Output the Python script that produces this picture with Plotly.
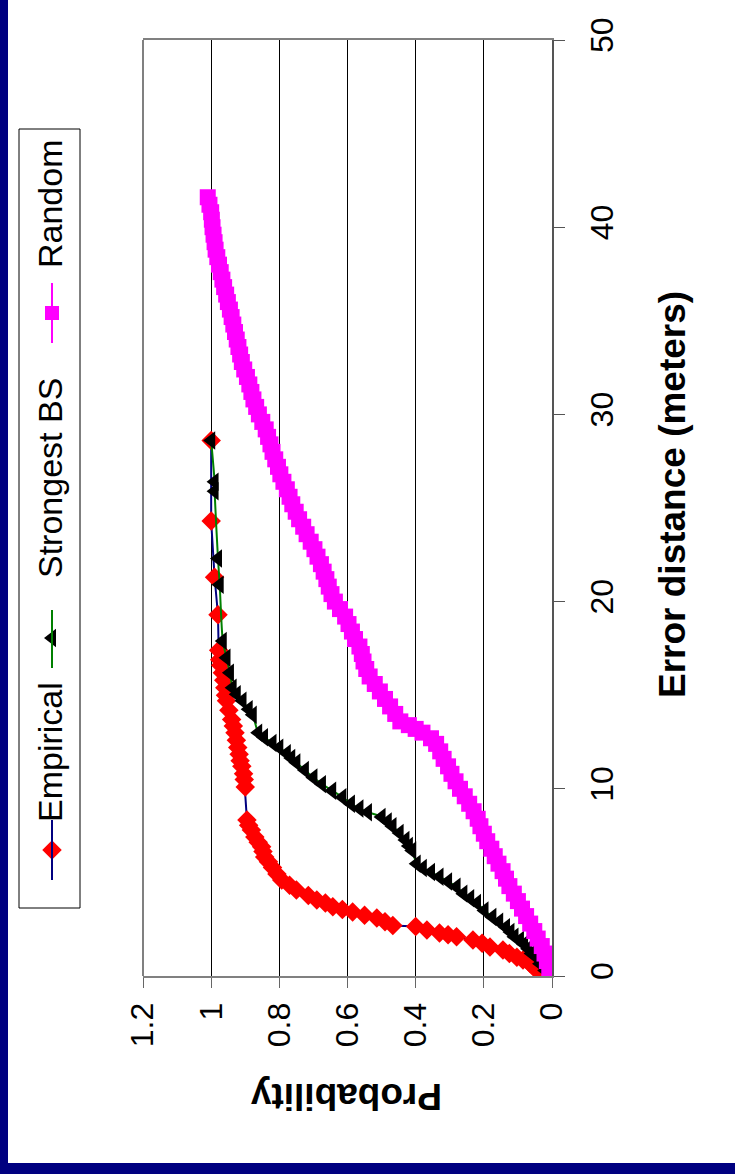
import plotly.graph_objects as go

W, H = 735, 1174
PL, PR, PT, PB = 143, 552, 40, 976

# ---------------- data ----------------
emp_dist = [0.0, 0.15, 0.32, 0.5, 0.68, 0.85, 1.0, 1.2, 1.39, 1.55, 1.75, 1.92, 2.1, 2.2, 2.3,
            2.46, 2.65, 2.7, 2.9, 3.1, 3.25, 3.42, 3.55, 3.7, 3.9, 4.06, 4.3, 4.6, 4.85, 5.13,
            5.45, 5.8, 6.1, 6.36, 6.65, 6.9, 7.15, 7.43, 7.8, 8.05, 8.33, 10.1, 10.5, 10.8,
            11.2, 11.5, 11.85, 12.2, 12.6, 13.0, 13.35, 13.7, 14.2, 14.7, 15.0, 15.4, 15.8,
            16.2, 16.6, 16.9, 17.4, 19.3, 21.3, 24.3, 28.6]
emp_prob = [0.0, 0.02, 0.044, 0.055, 0.065, 0.085, 0.103, 0.125, 0.144, 0.182, 0.205, 0.232,
            0.28, 0.305, 0.33, 0.367, 0.40, 0.467, 0.49, 0.514, 0.55, 0.585, 0.615, 0.643,
            0.665, 0.69, 0.715, 0.75, 0.77, 0.793, 0.807, 0.82, 0.832, 0.843, 0.848, 0.852,
            0.862, 0.872, 0.882, 0.89, 0.895, 0.90, 0.903, 0.905, 0.91, 0.915, 0.918, 0.922,
            0.926, 0.93, 0.935, 0.94, 0.948, 0.955, 0.958, 0.96, 0.963, 0.967, 0.972, 0.975,
            0.978, 0.98, 0.99, 1.0, 1.0]

bs_dist = [0.0, 0.3, 0.65, 1.0, 1.2, 1.45, 1.7, 1.92, 2.1, 2.35, 2.6, 2.9, 3.15, 3.5, 3.9,
           4.15, 4.4, 4.77, 5.05, 5.3, 5.55, 5.77, 6.0, 6.7, 6.95, 7.26, 7.64, 8.0, 8.25, 8.5,
           8.75, 8.95, 9.2, 9.55, 9.9, 10.25, 10.6, 11.0, 11.4, 11.65, 11.9, 12.2, 12.45,
           12.75, 13.0, 13.95, 14.25, 14.7, 15.05, 15.4, 16.2, 17.0, 17.9, 20.9, 22.3, 25.9,
           26.4, 28.6]
bs_prob = [0.0, 0.02, 0.035, 0.044, 0.06, 0.07, 0.082, 0.094, 0.11, 0.122, 0.135, 0.155,
           0.175, 0.198, 0.22, 0.24, 0.26, 0.28, 0.305, 0.33, 0.355, 0.379, 0.397, 0.41,
           0.42, 0.43, 0.447, 0.468, 0.482, 0.50, 0.54, 0.565, 0.59, 0.615, 0.645, 0.675,
           0.70, 0.725, 0.75, 0.765, 0.778, 0.80, 0.82, 0.845, 0.862, 0.878, 0.89, 0.908,
           0.925, 0.937, 0.945, 0.955, 0.966, 0.975, 0.98, 0.99, 0.99, 1.0]

rnd_dist = [0.0, 0.4, 0.8, 1.2, 1.6, 2.0, 2.4, 2.8, 3.2, 3.6, 4.0, 4.4, 4.8, 5.2, 5.6, 6.0,
            6.4, 6.8, 7.2, 7.6, 8.0, 8.4, 8.8, 9.2, 9.6, 10.0, 10.4, 10.8, 11.2, 11.6, 12.0,
            12.4, 12.7, 13.0, 13.2, 13.4, 13.6, 14.0, 14.4, 14.8, 15.2, 15.6, 16.0, 16.4,
            16.8, 17.2, 17.6, 18.0, 18.4, 18.8, 19.2, 19.6, 20.0, 20.4, 20.8, 21.2, 21.6,
            22.0, 22.4, 22.8, 23.2, 23.6, 24.0, 24.4, 24.8, 25.2, 25.6, 26.0, 26.4, 26.8,
            27.2, 27.6, 28.0, 28.4, 28.8, 29.2, 29.6, 30.0, 30.4, 30.8, 31.2, 31.6, 32.0,
            32.4, 32.8, 33.2, 33.6, 34.0, 34.4, 34.8, 35.2, 35.6, 36.0, 36.4, 36.8, 37.2,
            37.6, 38.0, 38.4, 38.8, 39.2, 39.6, 40.0, 40.4, 40.8, 41.2, 41.6]
rnd_prob = [0.0, 0.008, 0.015, 0.022, 0.03, 0.042, 0.052, 0.064, 0.076, 0.088, 0.10, 0.112,
            0.125, 0.135, 0.145, 0.157, 0.168, 0.178, 0.19, 0.20, 0.21, 0.218, 0.23, 0.243,
            0.256, 0.27, 0.283, 0.295, 0.305, 0.318, 0.328, 0.34, 0.355, 0.38, 0.40, 0.42,
            0.445, 0.46, 0.475, 0.49, 0.505, 0.52, 0.535, 0.545, 0.553, 0.558, 0.565, 0.578,
            0.587, 0.597, 0.607, 0.622, 0.637, 0.647, 0.655, 0.662, 0.67, 0.678, 0.688,
            0.697, 0.708, 0.72, 0.73, 0.742, 0.752, 0.762, 0.77, 0.778, 0.788, 0.797, 0.804,
            0.812, 0.82, 0.826, 0.833, 0.84, 0.85, 0.86, 0.868, 0.876, 0.882, 0.888, 0.895,
            0.903, 0.91, 0.915, 0.92, 0.925, 0.93, 0.935, 0.94, 0.945, 0.951, 0.956, 0.962,
            0.967, 0.972, 0.977, 0.982, 0.987, 0.99, 0.993, 0.996, 0.998, 1.0, 1.005, 1.01]

series_names = ["Empirical", "Strongest BS", "Random"]
prob_ticks = [0, 0.2, 0.4, 0.6, 0.8, 1, 1.2]
dist_ticks = [0, 10, 20, 30, 40, 50]

FONT = "Arial, Liberation Sans, sans-serif"
NAVY = "#000080"
SZ_D, SZ_T, SZ_S = 15, 16, 16

fig = go.Figure()

# main traces: probability on x (reversed), distance on y
fig.add_trace(go.Scatter(x=emp_prob, y=emp_dist, mode="lines+markers", name=series_names[0],
                         line=dict(color=NAVY, width=2),
                         marker=dict(symbol="diamond", size=SZ_D, color="#FF0000", line=dict(width=0)),
                         xaxis="x", yaxis="y", showlegend=False))
fig.add_trace(go.Scatter(x=bs_prob, y=bs_dist, mode="lines+markers", name=series_names[1],
                         line=dict(color="#008000", width=2, shape="spline", smoothing=0.6),
                         marker=dict(symbol="triangle-left", size=SZ_T, color="#000000", line=dict(width=0)),
                         xaxis="x", yaxis="y", showlegend=False))
fig.add_trace(go.Scatter(x=rnd_prob, y=rnd_dist, mode="lines+markers", name=series_names[2],
                         line=dict(color="#FF00FF", width=2),
                         marker=dict(symbol="square", size=SZ_S, color="#FF00FF", line=dict(width=0)),
                         xaxis="x", yaxis="y", showlegend=False))

# overlay pixel axes for decorations (legend, titles)
leg_x = 52
leg_items = [  # (marker y px, line y0, line y1, text center y, symbol, mcolor, lcolor, size)
    (850, 880, 820, 752, "diamond", "#FF0000", NAVY, SZ_D),
    (638, 668, 610, 478, "triangle-left", "#000000", "#008000", SZ_T),
    (313, 343, 283, 204, "square", "#FF00FF", "#FF00FF", 14),
]

shapes = [
    dict(type="rect", xref="x2", yref="y2", x0=0, x1=8, y0=0, y1=H, fillcolor=NAVY, line=dict(width=0), layer="above"),
    dict(type="rect", xref="x2", yref="y2", x0=0, x1=W, y0=1163, y1=H, fillcolor=NAVY, line=dict(width=0), layer="above"),
    dict(type="line", xref="x2", yref="y2", x0=PL, x1=PL, y0=PT, y1=PB, line=dict(color="#808080", width=2), layer="above"),
    dict(type="rect", xref="x2", yref="y2", x0=19, x1=80, y0=129, y1=908, fillcolor="white",
         line=dict(color="#000000", width=1), layer="below"),
]
annotations = []
for i, (my, l0, l1, ty, sym, mc, lc, sz) in enumerate(leg_items):
    shapes.append(dict(type="line", xref="x2", yref="y2", x0=leg_x, x1=leg_x, y0=l0, y1=l1,
                       line=dict(color=lc, width=2), layer="above"))
    fig.add_trace(go.Scatter(x=[leg_x], y=[my], mode="markers", xaxis="x2", yaxis="y2",
                             marker=dict(symbol=sym, size=sz, color=mc, line=dict(width=0)),
                             showlegend=False, hoverinfo="skip"))
    annotations.append(dict(xref="x2", yref="y2", x=50, y=ty, text=series_names[i], textangle=-90,
                            showarrow=False, xanchor="center", yanchor="middle",
                            font=dict(family=FONT, size=34, color="#000")))

annotations.append(dict(xref="x2", yref="y2", x=672, y=495, text="Error distance (meters)", textangle=-90,
                        showarrow=False, xanchor="center", yanchor="middle",
                        font=dict(family=FONT, size=37, color="#000", weight="bold")))
annotations.append(dict(xref="x2", yref="y2", x=346, y=1097, text="Probability", textangle=180,
                        showarrow=False, xanchor="center", yanchor="middle",
                        font=dict(family=FONT, size=37, color="#000", weight="bold")))

fig.update_layout(
    width=W, height=H,
    margin=dict(l=0, r=0, t=0, b=0),
    paper_bgcolor="white", plot_bgcolor="rgba(0,0,0,0)",
    showlegend=False,
    xaxis=dict(domain=[PL / W, PR / W], range=[1.2, 0], tickvals=prob_ticks,
               ticktext=[("%g" % v) for v in prob_ticks],
               showgrid=True, gridcolor="#000000", gridwidth=1, zeroline=False,
               ticks="outside", ticklen=10, tickcolor="#666666", tickwidth=1,
               tickangle=-90, tickfont=dict(family=FONT, size=32, color="#000"),
               showline=True, linecolor="#808080", linewidth=2, mirror=True,
               anchor="y", side="bottom", automargin=False, ticklabelstandoff=2),
    yaxis=dict(domain=[(H - PB) / H, (H - PT) / H], range=[0, 50], tickvals=dist_ticks,
               showgrid=False, zeroline=False,
               ticks="outside", ticklen=11, tickcolor="#555555", tickwidth=1,
               tickangle=-90, tickfont=dict(family=FONT, size=32, color="#000"),
               showline=True, linecolor="#555555", linewidth=2, mirror=False,
               anchor="x", side="right", automargin=False, ticklabelstandoff=10),
    xaxis2=dict(domain=[0, 1], range=[0, W], visible=False, anchor="y2", fixedrange=True),
    yaxis2=dict(domain=[0, 1], range=[H, 0], visible=False, anchor="x2", fixedrange=True),
    shapes=shapes,
    annotations=annotations,
)

fig.write_html("out.html", config={"displayModeBar": False},
               post_script="document.body.style.margin='0';document.body.style.overflow='hidden';")
